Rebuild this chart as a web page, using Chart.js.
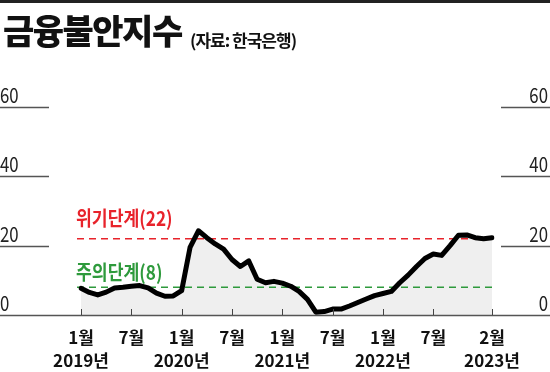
<!DOCTYPE html>
<html>
<head>
<meta charset="utf-8">
<script src="https://cdn.jsdelivr.net/npm/chart.js@4.4.0/dist/chart.umd.min.js"></script>
<style>
  html, body { margin: 0; padding: 0; background: #fff; }
  #wrap { position: relative; width: 550px; height: 372px; overflow: hidden; }
  #bar { position: absolute; left: 0; top: 0; width: 550px; height: 3px; background: #222; }
  #title { position: absolute; left: 3px; top: 13px; font-family: 'Noto Sans CJK KR', sans-serif; font-weight: 900; font-size: 34px; line-height: 1; letter-spacing: -1.5px; color: #111; }
  #source { position: absolute; left: 190px; top: 31px; font-family: 'Noto Sans CJK KR', sans-serif; font-weight: bold; font-size: 17px; line-height: 1; letter-spacing: -1px; color: #111; }
  canvas { position: absolute; left: 0; top: 0; }
</style>
</head>
<body>
<div id="wrap">
  <canvas id="chart" width="550" height="372"></canvas>
  <div id="bar"></div>
  <div id="title">금융불안지수</div>
  <div id="source">(자료: 한국은행)</div>
</div>
<script>
// monthly index, Jan 2019 .. Feb 2023
const months = [
    '2019-01', '2019-02', '2019-03', '2019-04', '2019-05', '2019-06', '2019-07', '2019-08', '2019-09', '2019-10', '2019-11', '2019-12',
    '2020-01', '2020-02', '2020-03', '2020-04', '2020-05', '2020-06', '2020-07', '2020-08', '2020-09', '2020-10', '2020-11', '2020-12',
    '2021-01', '2021-02', '2021-03', '2021-04', '2021-05', '2021-06', '2021-07', '2021-08', '2021-09', '2021-10', '2021-11', '2021-12',
    '2022-01', '2022-02', '2022-03', '2022-04', '2022-05', '2022-06', '2022-07', '2022-08', '2022-09', '2022-10', '2022-11', '2022-12',
    '2023-01', '2023-02'
];
const indexValues = [
    7.7, 6.5, 5.8, 6.6, 7.8, 8.0, 8.3, 8.5, 7.8, 6.3, 5.4, 5.5,
    7.0, 19.5, 24.3, 22.3, 20.5, 19.0, 16.0, 14.0, 15.6, 10.3, 9.3, 9.7,
    9.2, 8.3, 6.8, 4.5, 0.8, 1.0, 1.7, 1.7, 2.6, 3.6, 4.6, 5.6,
    6.2, 6.8, 9.3, 11.5, 14.0, 16.3, 17.6, 17.2, 20.0, 23.0, 23.1, 22.3,
    22.0, 22.3
];
// which months get a label on the x axis
const tickLabels = {
    '2019-01': ['1월', '2019년'], '2019-07': '7월',
    '2020-01': ['1월', '2020년'], '2020-07': '7월',
    '2021-01': ['1월', '2021년'], '2021-07': '7월',
    '2022-01': ['1월', '2022년'], '2022-07': '7월',
    '2023-02': ['2월', '2023년']
};
const yTicks = [0, 20, 40, 60];
const thresholds = [
    { value: 22, label: '위기단계(22)', color: '#e8232b', offset: 20 },
    { value: 8, label: '주의단계(8)', color: '#2e9a3c', offset: 15 }
];

const cjk = "'Noto Sans CJK KR', sans-serif";

// draw text squeezed horizontally, like the condensed face of the original
function narrowText(ctx, text, x, y, align, squeeze) {
    ctx.save();
    ctx.translate(x, y);
    ctx.scale(squeeze, 1);
    ctx.textAlign = align;
    ctx.fillText(text, 0, 0);
    ctx.restore();
}

const decor = {
    id: 'decor',
    beforeDatasetDraw(chart) {
        const { ctx, chartArea, scales: { y } } = chart;
        ctx.save();
        // dashed threshold lines + labels
        thresholds.forEach(t => {
            const py = y.getPixelForValue(t.value);
            ctx.strokeStyle = t.color;
            ctx.lineWidth = 1.6;
            ctx.setLineDash([7, 5]);
            ctx.beginPath();
            ctx.moveTo(chartArea.left - 4, py);
            ctx.lineTo(chartArea.right, py);
            ctx.stroke();
            ctx.setLineDash([]);
            ctx.fillStyle = t.color;
            ctx.font = "bold 20px " + cjk;
            ctx.textBaseline = 'middle';
            narrowText(ctx, t.label, chartArea.left - 5, py - t.offset, 'left', 0.86);
        });
        ctx.restore();
    },
    afterDraw(chart) {
        const { ctx, chartArea, scales: { x, y } } = chart;
        const w = chart.width;
        ctx.save();
        // margin grid segments and y labels on both sides
        ctx.strokeStyle = '#555';
        ctx.lineWidth = 1.3;
        ctx.fillStyle = '#222';
        ctx.font = "21px " + cjk;
        ctx.textBaseline = 'alphabetic';
        yTicks.forEach(v => {
            const py = Math.round(y.getPixelForValue(v)) + 0.5;
            ctx.beginPath();
            if (v === 0) {
                ctx.moveTo(0, py); ctx.lineTo(w, py);
            } else {
                ctx.moveTo(0, py); ctx.lineTo(49, py);
                ctx.moveTo(501, py); ctx.lineTo(w, py);
            }
            ctx.stroke();
            narrowText(ctx, String(v), 0, py - 5, 'left', 0.8);
            narrowText(ctx, String(v), w - 2, py - 5, 'right', 0.8);
        });
        // short upward tick marks at labelled months
        ctx.lineWidth = 1;
        ctx.strokeStyle = '#444';
        months.forEach((m, i) => {
            if (!tickLabels[m]) return;
            const px = Math.round(x.getPixelForValue(i)) + 0.5;
            ctx.beginPath();
            ctx.moveTo(px, chartArea.bottom - 6);
            ctx.lineTo(px, chartArea.bottom);
            ctx.stroke();
        });
        ctx.restore();
    }
};

new Chart(document.getElementById('chart').getContext('2d'), {
    type: 'line',
    data: {
        labels: months,
        datasets: [{
            data: indexValues,
            borderColor: '#000',
            borderWidth: 5,
            borderJoinStyle: 'round',
            borderCapStyle: 'round',
            backgroundColor: '#efefef',
            fill: 'origin',
            pointRadius: 0,
            tension: 0
        }]
    },
    options: {
        responsive: false,
        animation: false,
        devicePixelRatio: 1,
        layout: { padding: { left: 81, right: 58, top: 107, bottom: 0 } },
        plugins: { legend: { display: false }, tooltip: { enabled: false } },
        scales: {
            x: {
                type: 'category',
                offset: false,
                grid: { display: false },
                border: { display: false },
                ticks: {
                    autoSkip: false,
                    maxRotation: 0,
                    padding: 3,
                    color: '#111',
                    font: { family: cjk, size: 17, weight: 'bold', lineHeight: 1.35 },
                    callback: (val, i) => tickLabels[months[i]] || ''
                },
                afterFit: (scale) => { scale.height = 57; }
            },
            y: {
                display: false,
                min: 0,
                max: 60
            }
        }
    },
    plugins: [decor]
});
</script>
</body>
</html>
